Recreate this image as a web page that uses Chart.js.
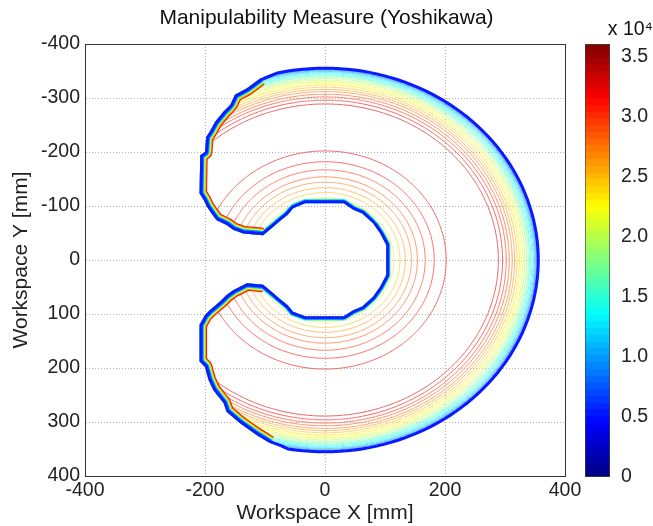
<!DOCTYPE html>
<html lang="en">
<head>
<meta charset="UTF-8" />
<title>Manipulability Measure (Yoshikawa)</title>
<style>
  body { margin: 0; background: #fff; }
  #wrap { position: relative; width: 653px; height: 526px; }
  #plot { position: absolute; left: 0; top: 0; }
  #cbar { position: absolute; left: 570px; top: 0; }
</style>
</head>
<body>
<div id="wrap">
  <canvas id="plot" width="653" height="526"></canvas>
  <canvas id="cbar" width="83" height="526"></canvas>
</div>

<script src="https://cdn.jsdelivr.net/npm/chart.js"></script>
<script>
// ---- values ----
const xTickValues = [-400, -200, 0, 200, 400];
const yTickValues = [-400, -300, -200, -100, 0, 100, 200, 300, 400];
const cbarTickValues = [0, 0.5, 1, 1.5, 2, 2.5, 3, 3.5];
const cbarMax = 3.606; // x 10^4

// contour levels (Yoshikawa measure) and the radius [mm] of each ring
const outerLevels = [32900, 31600, 30300, 29000, 27700, 26400, 25100, 23800, 22500, 21200, 19900, 18600,
                     17300, 16000, 14700, 13400, 12100, 10800, 9500, 8200, 6900, 5600, 4300, 3000];
const outerRadii  = [289, 296, 302, 307, 312, 316, 320, 324, 327, 330, 333, 336,
                     339, 341, 343, 345, 347, 349, 350.5, 352, 353, 354, 355, 356];
const innerLevels = [22500, 23800, 25100, 26400, 27700, 29000, 30300, 31600, 32900];
const innerRadii  = [108, 115, 125, 134, 144, 154, 167, 182, 202];

// workspace edge [mm]
const upperArmX = [-80, -108, -130, -150, -158, -169, -183, -192, -198, -200, -208, -209, -202, -197, -189, -181, -164, -153, -136, -103];
const upperArmY = [-349, -336, -318, -306, -287, -275, -256, -238, -228, -200, -194, -123, -111, -99, -86, -74, -65, -56, -49, -46];
const holeX = [-103, -90, -75, -62, -53, -33, 31, 47, 62, 80, 92, 102, 102, 92, 80, 62, 47, 31, -33, -53, -62, -75, -90, -103];
const holeY = [-46, -58, -72, -84, -96, -105, -105, -93, -86, -68, -49, -28, 28, 49, 68, 86, 93, 104, 104, 96, 84, 72, 58, 46];
const lowerArmX = [-103, -130, -153, -164, -175, -192, -200, -209, -209, -200, -194, -186, -169, -164, -142, -114, -92, -75];
const lowerArmY = [46, 43, 56, 65, 77, 93, 102, 120, 188, 198, 222, 241, 265, 281, 302, 324, 339, 346];
const reachRadius = 358;

// ---- helpers ----
const FONT = "'Liberation Sans', Arial, sans-serif";
const toPts = (xs, ys) => xs.map((x, i) => ({ x, y: ys[i] }));
const arcPts = (r, a0, a1, step) => {
  const pts = [];
  const dir = a1 > a0 ? 1 : -1;
  for (let a = a0; dir * (a1 - a) >= 0; a += dir * step) {
    const t = a * Math.PI / 180;
    pts.push({ x: r * Math.cos(t), y: r * Math.sin(t) });
  }
  return pts;
};
const jetRgb = v => [3, 2, 1].map(t => Math.max(0, Math.min(1, 1.5 - Math.abs(4 * v - t))));
// faded towards white like the thin anti-aliased contour lines
const jet = (v, strength) => {
  const [r, g, b] = jetRgb(v).map(k => Math.round(255 * (1 - strength) + 255 * k * strength));
  return `rgb(${r},${g},${b})`;
};

const upperArm = toPts(upperArmX, upperArmY);
const hole = toPts(holeX, holeY);
const lowerArm = toPts(lowerArmX, lowerArmY);
const edge = [...upperArm, ...hole.slice(1), ...lowerArm.slice(1), ...arcPts(reachRadius, 100, -100, 2)];

// tiny tension keeps Chart.js off its column-merging fast path
const lineSet = (data, color, width, order) => ({
  data, showLine: true, pointRadius: 0, borderColor: color, borderWidth: width, tension: 1e-6,
  borderJoinStyle: 'round', borderCapStyle: 'butt', fill: false, order
});

const datasets = [];
// contour rings
outerLevels.forEach((lv, i) => datasets.push(lineSet(arcPts(outerRadii[i], 0, 360, 2), jet(lv / 36060, 0.62), 1, 100)));
innerLevels.forEach((lv, i) => datasets.push(lineSet(arcPts(innerRadii[i], 0, 360, 2), jet(lv / 36060, 0.62), 1, 100)));

// levels crowded on the workspace edge; the stroke is clipped to the inside,
// so the narrowest (blue) sits on the edge and wider ones show further in
const edgeBand = { color: '#0a1cff', width: 6 };
const armBand = [
  { color: '#e01a00', width: 15 }, { color: '#ff9a00', width: 13 }, { color: '#e8ff30', width: 11 },
  { color: '#40ffc0', width: 9.5 }, { color: '#0094ff', width: 8 }
];
const holeBand = [{ color: '#70ff90', width: 9 }, { color: '#00c4ff', width: 7.5 }];

armBand.forEach((b, k) => {
  datasets.push(lineSet(upperArm.slice(1), b.color, b.width, 50 - k));
  datasets.push(lineSet(lowerArm.slice(0, -1), b.color, b.width, 50 - k));
});
holeBand.forEach((b, k) => datasets.push(lineSet(hole, b.color, b.width, 50 - k)));
datasets.push(lineSet([...edge, edge[0], edge[1]], edgeBand.color, edgeBand.width, 10));

const clipToWorkspace = {
  id: 'clipToWorkspace',
  beforeDatasetsDraw(chart) {
    const { ctx, scales: { x, y } } = chart;
    ctx.save();
    ctx.beginPath();
    edge.forEach((p, i) => {
      const px = x.getPixelForValue(p.x), py = y.getPixelForValue(p.y);
      if (i) ctx.lineTo(px, py); else ctx.moveTo(px, py);
    });
    ctx.closePath();
    ctx.clip();
  },
  afterDatasetsDraw(chart) { chart.ctx.restore(); }
};

const setTicks = values => scale => { scale.ticks = values.map(v => ({ value: v })); };

new Chart(document.getElementById('plot'), {
  type: 'scatter',
  data: { datasets },
  options: {
    responsive: false, animation: false, devicePixelRatio: 1,
    layout: { padding: 0 },
    plugins: {
      legend: { display: false }, tooltip: { enabled: false },
      title: {
        display: true, text: 'Manipulability Measure (Yoshikawa)', color: '#111',
        font: { family: FONT, size: 21, weight: 'normal', lineHeight: 1.2 },
        padding: { top: 6, bottom: 12.8 }
      }
    },
    scales: {
      x: {
        type: 'linear', min: -400, max: 400, position: 'bottom',
        afterBuildTicks: setTicks(xTickValues),
        afterFit: s => { s.height = 50; },
        ticks: { color: '#222', padding: 3, font: { family: FONT, size: 19.5 } },
        grid: { color: '#b4b4b4', drawTicks: false },
        border: { color: '#333', dash: [1, 2] },
        title: { display: true, text: 'Workspace X [mm]', color: '#222', padding: { top: 0, bottom: 0 }, font: { family: FONT, size: 21 } }
      },
      y: {
        type: 'linear', min: -400, max: 400, reverse: true, position: 'left',
        afterBuildTicks: setTicks(yTickValues),
        afterFit: s => { s.width = 85; },
        ticks: { color: '#222', padding: 5, font: { family: FONT, size: 19.5 } },
        grid: { color: '#b4b4b4', drawTicks: false },
        border: { color: '#333', dash: [1, 2] },
        title: { display: true, text: 'Workspace Y [mm]', color: '#222', padding: { top: 9, bottom: 0 }, font: { family: FONT, size: 21 } }
      },
      x2: {
        type: 'linear', min: -400, max: 400, position: 'top',
        ticks: { display: false }, grid: { display: false }, border: { color: '#333' },
        afterFit: s => { s.height = 0; }
      },
      y2: {
        type: 'linear', min: -400, max: 400, position: 'right',
        ticks: { display: false }, grid: { display: false }, border: { color: '#333' },
        afterFit: s => { s.width = 88; }
      }
    }
  },
  plugins: [clipToWorkspace]
});

// ---- colour bar (64-step jet map) ----
new Chart(document.getElementById('cbar'), {
  type: 'bar',
  data: {
    labels: ['w'],
    datasets: [{
      data: [[0, cbarMax]],
      barPercentage: 1, categoryPercentage: 1,
      borderColor: '#444', borderWidth: 1, borderSkipped: false,
      backgroundColor: c => {
        const ca = c.chart.chartArea;
        if (!ca) return '#00f';
        const g = c.chart.ctx.createLinearGradient(0, ca.bottom, 0, ca.top);
        for (let i = 0; i < 64; i++) {
          const col = jet((i + 0.5) / 64, 1);
          g.addColorStop(i / 64, col);
          g.addColorStop((i + 1) / 64, col);
        }
        return g;
      }
    }]
  },
  options: {
    responsive: false, animation: false, devicePixelRatio: 1,
    layout: { padding: { left: 15, right: 0, top: 0, bottom: 49 } },
    plugins: {
      legend: { display: false }, tooltip: { enabled: false },
      title: {
        display: true, text: 'x 10\u2074', color: '#111', align: 'end',
        font: { family: FONT, size: 19.5, weight: 'normal', lineHeight: 1.2 },
        padding: { top: 18, bottom: 2.6 }
      }
    },
    scales: {
      x: { display: false },
      y: {
        position: 'right', min: 0, max: cbarMax,
        afterBuildTicks: setTicks(cbarTickValues),
        afterFit: s => { s.width = 43; },
        ticks: { color: '#222', padding: 3, font: { family: FONT, size: 19.5 } },
        grid: { display: false },
        border: { display: false }
      }
    }
  }
});
</script>
</body>
</html>
